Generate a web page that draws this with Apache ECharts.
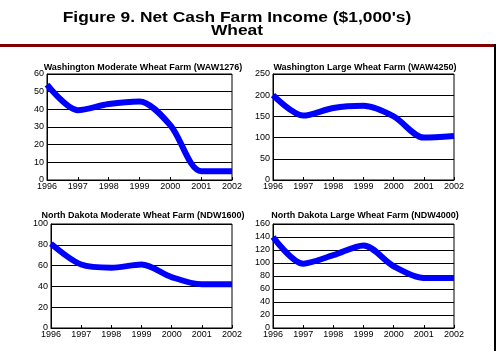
<!DOCTYPE html>
<html>
<head>
<meta charset="utf-8">
<script src="https://cdn.jsdelivr.net/npm/echarts@6/dist/echarts.min.js"></script>
<style>
  html, body { margin: 0; padding: 0; background: #fff; }
  #chart { width: 497px; height: 351px; }
</style>
</head>
<body>
<div id="chart"></div>
<script>
const years = ["1996", "1997", "1998", "1999", "2000", "2001", "2002"];

const waModerate = [54, 39.5, 43, 44.5, 31, 5, 5];
const waLarge = [200, 152, 170, 175, 150, 100, 104];
const ndModerate = [81, 61, 58, 61, 49, 42, 42];
const ndLarge = [140, 99, 112, 127, 95, 77, 77];

const panelTitles = [
  "Washington Moderate Wheat Farm (WAW1276)",
  "Washington Large Wheat Farm (WAW4250)",
  "North Dakota Moderate Wheat Farm (NDW1600)",
  "North Dakota Large Wheat Farm (NDW4000)"
];
const yMax = [60, 250, 100, 160];
const yStep = [10, 50, 20, 20];

const font = "Liberation Sans, Arial, sans-serif";

// plot areas
const grids = [
  { left: 47, top: 74, width: 185, height: 106 },
  { left: 273, top: 74, width: 181, height: 106 },
  { left: 51, top: 224, width: 181, height: 104 },
  { left: 273, top: 224, width: 181, height: 104 }
];
const titleCenters = [[138, 58], [360, 58], [138, 206], [360, 206]];
const seriesData = [waModerate, waLarge, ndModerate, ndLarge];

const chart = echarts.init(document.getElementById("chart"));

// the heading font in the original is wide and short, so stretch it sideways
const headStyle = { font: "bold 14px " + font, fill: "#000", align: "center" };

chart.setOption({
  backgroundColor: "#fff",
  animation: false,
  title: panelTitles.map((t, i) => ({
    text: t,
    left: titleCenters[i][0],
    top: titleCenters[i][1],
    textAlign: "center",
    textStyle: { fontFamily: font, fontSize: 9, fontWeight: "bold", color: "#000" }
  })),
  graphic: [
    {
      type: "text", x: 237, y: 11, scaleX: 1.24,
      style: Object.assign({ text: "Figure 9. Net Cash Farm Income ($1,000's)" }, headStyle)
    },
    {
      type: "text", x: 237, y: 24, scaleX: 1.24,
      style: Object.assign({ text: "Wheat" }, headStyle)
    },
    { type: "rect", shape: { x: 0, y: 44, width: 496, height: 3 }, style: { fill: "#800000" } },
    { type: "rect", shape: { x: 494, y: 44, width: 2, height: 307 }, style: { fill: "#000" } }
  ],
  grid: grids.map(g => Object.assign({ show: true, borderColor: "#000", borderWidth: 1 }, g)),
  xAxis: grids.map((g, i) => ({
    type: "category",
    gridIndex: i,
    data: years,
    boundaryGap: false,
    axisLine: { lineStyle: { color: "#000", width: 1 } },
    axisTick: { inside: true, length: 3, lineStyle: { color: "#000" } },
    axisLabel: { fontFamily: font, fontSize: 9, color: "#000", margin: 2, interval: 0 }
  })),
  yAxis: grids.map((g, i) => ({
    type: "value",
    gridIndex: i,
    min: 0,
    max: yMax[i],
    interval: yStep[i],
    axisLine: { show: true, lineStyle: { color: "#000" } },
    axisTick: { show: false },
    splitLine: { lineStyle: { color: "#000", width: 1 } },
    axisLabel: { fontFamily: font, fontSize: 9, color: "#000", margin: 3 }
  })),
  series: seriesData.map((d, i) => ({
    type: "line",
    xAxisIndex: i,
    yAxisIndex: i,
    data: d,
    smooth: 0.3,
    symbol: "none",
    lineStyle: { color: "#0000ff", width: 6 }
  }))
});
</script>
</body>
</html>
